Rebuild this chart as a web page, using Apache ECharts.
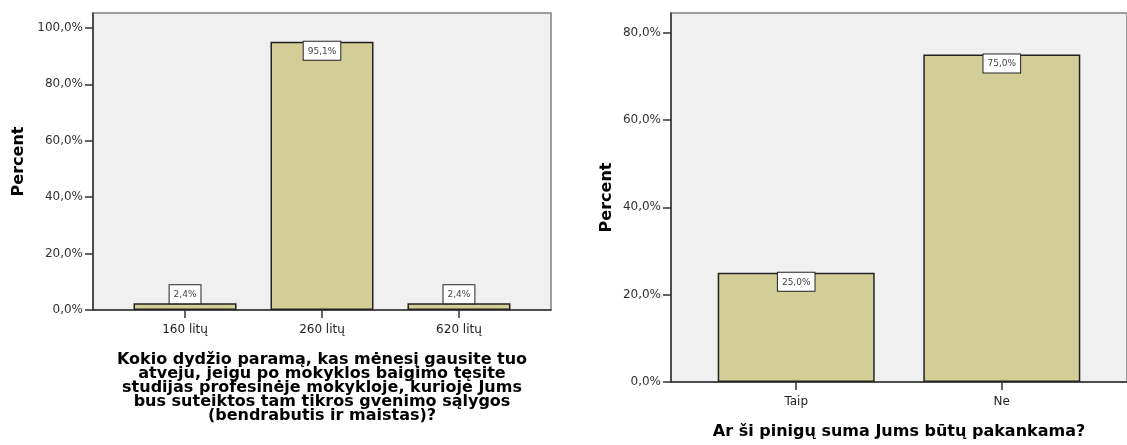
<!DOCTYPE html>
<html>
<head>
<meta charset="utf-8">
<script src="https://cdn.jsdelivr.net/npm/echarts@6/dist/echarts.min.js"></script>
<style>
  html, body { margin: 0; padding: 0; background: #fff; }
  #chart { width: 1127px; height: 445px; }
</style>
</head>
<body>
<div id="chart"></div>
<script>
// left chart
var cats1 = ["160 litų", "260 litų", "620 litų"];
var vals1 = [2.4, 95.1, 2.4];
var title1 = "Kokio dydžio paramą, kas mėnesį gausite tuo\natveju, jeigu po mokyklos baigimo tęsite\nstudijas profesinėje mokykloje, kurioje Jums\nbus suteiktos tam tikros gvenimo sąlygos\n(bendrabutis ir maistas)?";
var yTicks1 = [0, 20, 40, 60, 80, 100];

// right chart
var cats2 = ["Taip", "Ne"];
var vals2 = [25.0, 75.0];
var title2 = "Ar ši pinigų suma Jums būtų pakankama?";
var yTicks2 = [0, 20, 40, 60, 80];

var myChart = echarts.init(document.getElementById("chart"));

function pct(v) {
  return v.toFixed(1).replace(".", ",") + "%";
}

function barData(vals, bigLimit) {
  return vals.map(function(v, i) {
    return {
      value: [i, v],
      label: { position: v > bigLimit ? "insideTop" : "top" }
    };
  });
}

var labelStyle = {
  show: true,
  distance: 0,
  formatter: function(p) { return pct(p.value[1]); },
  fontFamily: "DejaVu Sans",
  fontSize: 9,
  color: "#444",
  backgroundColor: "#fff",
  borderColor: "#222",
  borderWidth: 1,
  padding: [5, 4, 4, 4]
};

function yAxis(idx, max, ticks) {
  return {
    type: "value",
    gridIndex: idx,
    min: 0,
    max: max,
    name: "Percent",
    nameLocation: "middle",
    nameRotate: 90,
    nameGap: idx === 0 ? 66 : 56,
    nameTextStyle: { fontFamily: "DejaVu Sans", fontWeight: "bold", fontSize: 16, color: "#000" },
    axisLine: { show: true, onZero: false, lineStyle: { color: "#333", width: 1.5 } },
    axisTick: { show: true, length: 8, customValues: ticks, lineStyle: { color: "#333", width: 1.5 } },
    axisLabel: {
      customValues: ticks,
      margin: 10,
      fontFamily: "DejaVu Sans",
      fontSize: 12,
      color: "#333",
      formatter: function(v) { return pct(v); }
    },
    splitLine: { show: false }
  };
}

function xAxis(idx, cats, pad, title) {
  var ticks = cats.map(function(c, i) { return i; });
  return {
    type: "value",
    gridIndex: idx,
    min: -pad,
    max: cats.length - 1 + pad,
    name: title,
    nameLocation: "middle",
    nameGap: 43,
    nameTextStyle: { fontFamily: "DejaVu Sans", fontWeight: "bold", fontSize: 16, lineHeight: 14, color: "#000", align: "center" },
    axisLine: { show: true, onZero: false, lineStyle: { color: "#333", width: 1.5 } },
    axisTick: { show: true, length: 8, customValues: ticks, lineStyle: { color: "#333", width: 1.5 } },
    axisLabel: {
      customValues: ticks,
      margin: 14,
      fontFamily: "DejaVu Sans",
      fontSize: 12,
      color: "#222",
      formatter: function(v) { return cats[Math.round(v)]; }
    },
    splitLine: { show: false }
  };
}

var gridStyle = {
  show: true,
  backgroundColor: "#f0f0f0",
  borderColor: "#808080",
  borderWidth: 1.5,
  containLabel: false
};

var option = {
  animation: false,
  grid: [
    Object.assign({ left: 93, top: 13, width: 458, height: 297 }, gridStyle),
    Object.assign({ left: 671, top: 13, width: 466, height: 372 }, gridStyle)
  ],
  xAxis: [
    xAxis(0, cats1, 0.672, title1),
    xAxis(1, cats2, 0.609, title2)
  ],
  yAxis: [
    yAxis(0, 105.3, yTicks1),
    yAxis(1, 84.5, yTicks2)
  ],
  series: [
    {
      type: "bar",
      xAxisIndex: 0,
      yAxisIndex: 0,
      barWidth: 103,
      data: barData(vals1, 50),
      itemStyle: { color: "#d3ce98", borderColor: "#222", borderWidth: 1.5 },
      label: labelStyle
    },
    {
      type: "bar",
      xAxisIndex: 1,
      yAxisIndex: 1,
      barWidth: 157,
      data: barData(vals2, 10),
      itemStyle: { color: "#d3ce98", borderColor: "#222", borderWidth: 1.5 },
      label: labelStyle
    }
  ]
};

myChart.setOption(option);
</script>
</body>
</html>
